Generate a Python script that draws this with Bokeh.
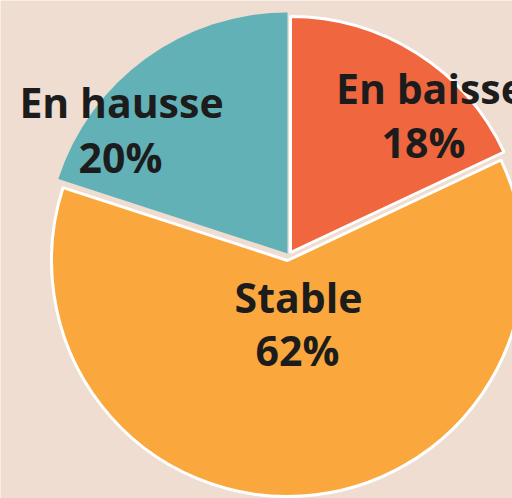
from math import radians
from bokeh.plotting import figure
from bokeh.models import Range1d, ColumnDataSource
from bokeh.core.properties import value
from bokeh.embed import file_html
from bokeh.resources import INLINE

# ---- data ----
categories = ["En baisse", "Stable", "En hausse"]
values = [18, 62, 20]
colors = ["#F0673F", "#FAA83D", "#62B1B7"]

# ---- style ----
BG = "#EEDDD0"
W, H = 512, 498
# slice centres (picture px) and radii, borders
centers = [(290, 252), (287, 260), (287, 253)]
radii = [236, 236, 241]
line_colors = ["white", "white", None]
line_widths = [3, 3, 0]
# label anchor points (picture px)
label_pos = [((430, 87), (423, 141)), ((298, 296), (297, 349)), ((121, 101), (120, 156))]

def py(y):
    return H - y

p = figure(width=W, height=H, output_backend="svg", toolbar_location=None,
           x_range=Range1d(0, W), y_range=Range1d(0, H),
           min_border=0, background_fill_color=BG, border_fill_color=BG)
p.axis.visible = False
p.grid.visible = False
p.outline_line_color = None

total = sum(values)
cum = 0
for i, (cat, v) in enumerate(zip(categories, values)):
    start = 90 - (cum + v) / total * 360
    end = 90 - cum / total * 360
    cum += v
    cx, cy = centers[i]
    kw = dict(line_color=line_colors[i], line_width=line_widths[i]) if line_colors[i] else dict(line_color=None)
    p.wedge(x=cx, y=py(cy), radius=radii[i], start_angle=radians(start), end_angle=radians(end),
            direction="anticlock", fill_color=colors[i], **kw)

for i, (cat, v) in enumerate(zip(categories, values)):
    (x1, y1), (x2, y2) = label_pos[i]
    src = ColumnDataSource(dict(x=[x1, x2], y=[py(y1), py(y2)], t=[cat, f"{v}%"]))
    p.text(x="x", y="y", text="t", source=src, text_align="center", text_baseline="alphabetic",
           text_font=value("Open Sans"), text_font_style="bold", text_font_size="41px", text_color="#1C1C1C")

html = file_html(p, INLINE)
html = html.replace("<body>", f"<body style=\"background:{BG};margin:0\">", 1)
open("out.html", "w").write(html)
